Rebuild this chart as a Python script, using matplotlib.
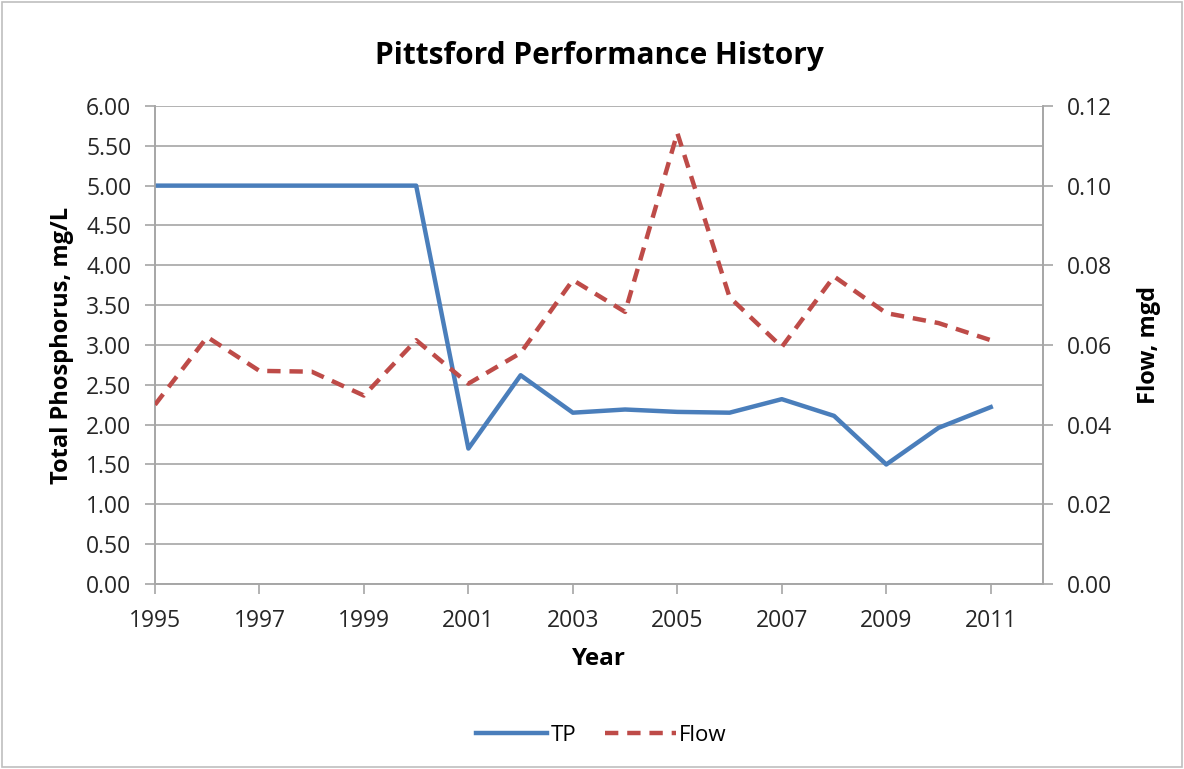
import matplotlib.pyplot as plt
from matplotlib.patches import Rectangle

# ── Data ──────────────────────────────────────
years = [1995, 1996, 1997, 1998, 1999, 2000, 2001, 2002, 2003,
         2004, 2005, 2006, 2007, 2008, 2009, 2010, 2011]
tp    = [5.00, 5.00, 5.00, 5.00, 5.00, 5.00, 1.70, 2.62, 2.15,
         2.19, 2.16, 2.15, 2.32, 2.11, 1.50, 1.96, 2.22]
flow  = [0.045, 0.062, 0.0535, 0.0533, 0.0473, 0.0612, 0.0503, 0.058, 0.0763,
         0.0683, 0.1132, 0.072, 0.0595, 0.0772, 0.068, 0.0655, 0.0612]

x_ticks  = [1995, 1997, 1999, 2001, 2003, 2005, 2007, 2009, 2011]
tp_ticks = [i * 0.5 for i in range(13)]
fl_ticks = [i * 0.02 for i in range(7)]

blue = "#4A7EBB"
red  = "#BE4B48"
grid = "#A6A6A6"
dash = (0, (3, 2))

plt.rcParams["font.family"] = ["Open Sans", "DejaVu Sans"]

fig = plt.figure(figsize=(11.84, 7.69), dpi=100)
fig.patches.append(Rectangle((0.002, 0.002), 0.996, 0.996, transform=fig.transFigure,
                             fill=False, edgecolor="#BFBFBF", linewidth=1.2))
ax = fig.add_axes([0.1309, 0.2406, 0.7500, 0.6216])
ax2 = ax.twinx()

ax.plot(years, tp, color=blue, linewidth=3.2, zorder=3)
ax2.plot(years, flow, color=red, linewidth=3.2, linestyle=dash, zorder=3)

ax.set_xlim(1995, 2012)
ax.set_ylim(0, 6)
ax2.set_ylim(0, 0.12)
ax.set_xticks(x_ticks)
ax.set_yticks(tp_ticks)
ax2.set_yticks(fl_ticks)
ax.set_yticklabels([f"{v:.2f}" for v in tp_ticks])
ax2.set_yticklabels([f"{v:.2f}" for v in fl_ticks])

ax.yaxis.grid(True, color=grid, linewidth=1.2)
ax.set_axisbelow(True)
for a in (ax, ax2):
    for s in a.spines.values():
        s.set_color(grid)
        s.set_linewidth(1.2)
    a.spines["top"].set_visible(False)
    a.tick_params(color=grid, length=7, width=1.2, labelsize=16.5, labelcolor="#262626")
    a.tick_params(axis="y", pad=10)
ax.tick_params(axis="x", pad=11)

ax.set_title("Pittsford Performance History", fontsize=21.5, fontweight="bold", pad=30)
ax.set_xlabel("Year", fontsize=17.5, fontweight="bold", labelpad=10)
ax.set_ylabel("Total Phosphorus, mg/L", fontsize=17, fontweight="bold", labelpad=9)
ax2.set_ylabel("Flow, mgd", fontsize=17, fontweight="bold", labelpad=18)

h1 = plt.Line2D([], [], color=blue, linewidth=3.2)
h2 = plt.Line2D([], [], color=red, linewidth=3.2, linestyle=dash)
fig.legend([h1, h2], ["TP", "Flow"], loc="center", bbox_to_anchor=(0.508, 0.044),
           ncol=2, frameon=False, fontsize=16, handlelength=3.2, handletextpad=0.15,
           columnspacing=1.3)

fig.savefig("out.png", dpi=100)
